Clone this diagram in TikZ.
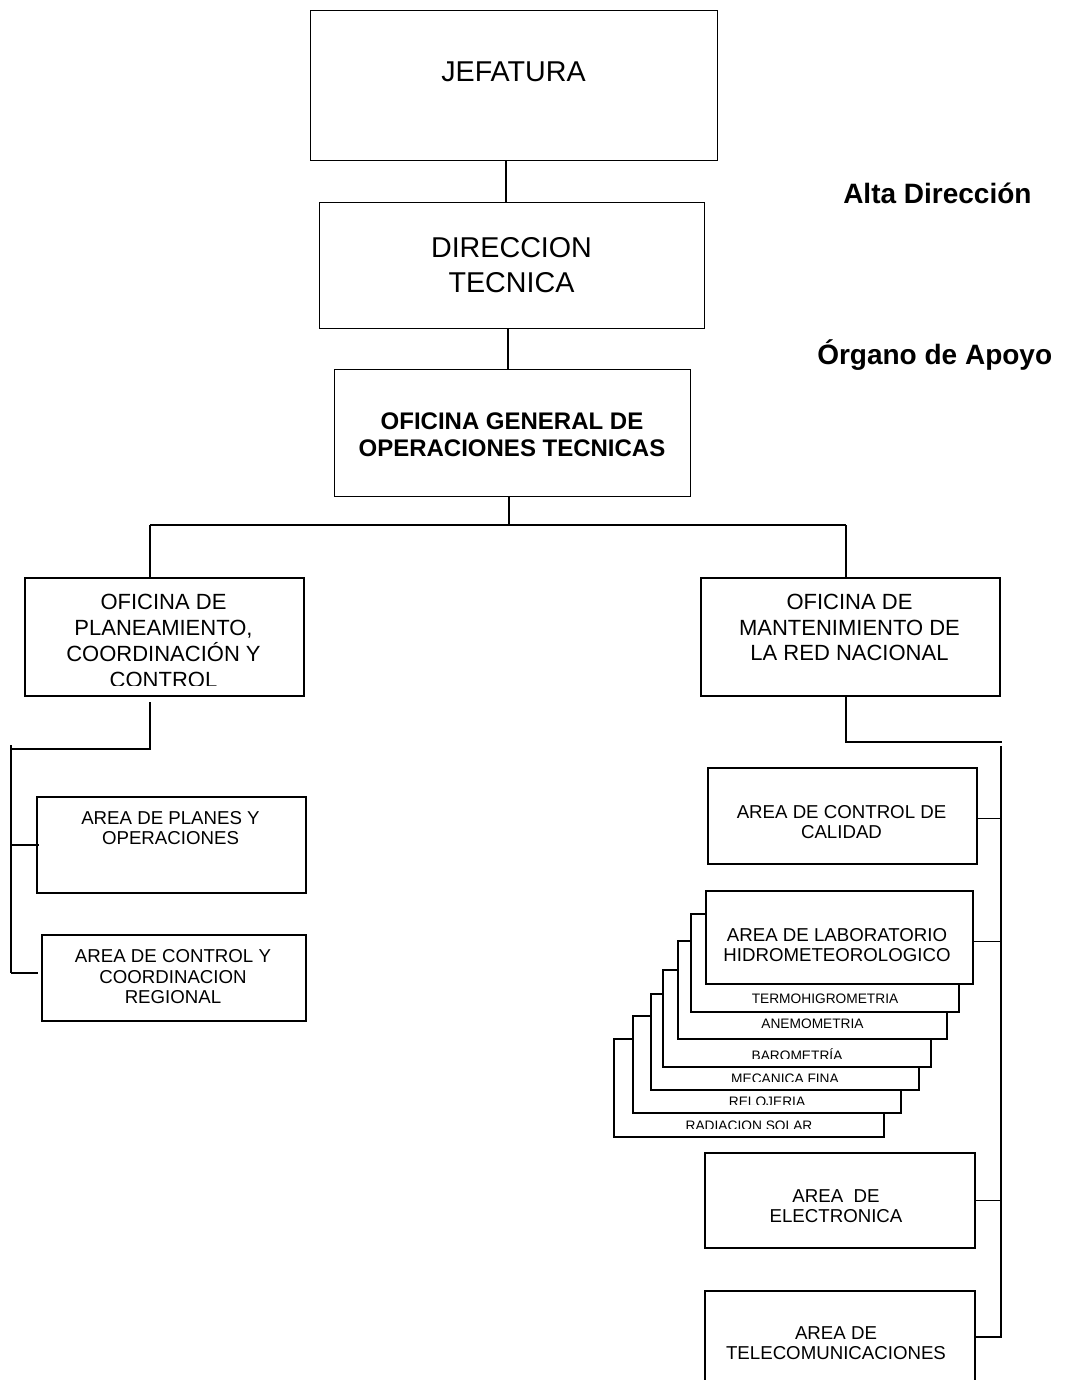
\documentclass[tikz,border=0pt]{standalone}
\usepackage{fontspec}
\setmainfont{Liberation Sans}
\tikzset{orgbox/.style={draw, line width=1.5pt, fill=white, inner sep=0pt, anchor=north west}}
\tikzset{topbox/.style={orgbox, line width=1.1pt}}
\tikzset{wh/.style 2 args={minimum width=#1*0.75pt, minimum height=#2*0.75pt}}
\tikzset{conn/.style={line width=1.1pt}}
\tikzset{lbl/.style={align=center, inner sep=0pt}}
\tikzset{bigtxt/.style={lbl, font=\fontsize{21.5pt}{26.25pt}\selectfont}}
\tikzset{boldtxt/.style={lbl, font=\bfseries\fontsize{18pt}{20.25pt}\selectfont}}
\tikzset{oftxt/.style={lbl, font=\fontsize{16.5pt}{19.4pt}\selectfont}}
\tikzset{areatxt/.style={lbl, font=\fontsize{14pt}{15.4pt}\selectfont}}
\tikzset{subtxt/.style={lbl, font=\fontsize{10.3pt}{12pt}\selectfont}}
\tikzset{nivel/.style={inner sep=0pt, font=\bfseries\fontsize{21pt}{25pt}\selectfont}}

\begin{document}
\begin{tikzpicture}[x=0.75pt,y=-0.75pt]
  \useasboundingbox (0,0) rectangle (1065,1380);
  % alta direccion
  \node[topbox, wh={407}{150}] (jef) at (310,10) {};
  \node[bigtxt] (jef-t) at (513.5,72) {JEFATURA};
  \node[topbox, wh={385}{126}] (dir) at (319,202) {};
  \node[bigtxt] (dir-t) at (511.5,265.5) {DIRECCION\\TECNICA};
  \node[topbox, wh={356}{127}] (ogot) at (334,369) {};
  \node[boldtxt] (ogot-t) at (512,435) {OFICINA GENERAL DE\\OPERACIONES TECNICAS};
  \node[nivel, anchor=base west] (alta) at (843,204) {Alta Dirección};
  \node[nivel, anchor=base west] (apoyo) at (817,364) {Órgano de Apoyo};
  \coordinate (t1) at (506,0);
  \coordinate (t2) at (508,0);
  \coordinate (t3) at (509,0);
  \draw[conn] (t1 |- jef.south) -- (t1 |- dir.north);
  \draw[conn] (t2 |- dir.south) -- (t2 |- ogot.north);
  % oficinas
  \node[orgbox, wh={279}{118}] (plan) at (24,577) {};
  \begin{scope}
    \clip (plan.north west) rectangle ([yshift=9pt]plan.south east);
    \node[oftxt] (plan-t) at (163.5,641) {OFICINA DE\\PLANEAMIENTO,\\COORDINACIÓN Y\\CONTROL};
  \end{scope}
  \node[orgbox, wh={299}{118}] (mant) at (700,577) {};
  \node[oftxt] (mant-t) at (849.5,627.5) {OFICINA DE\\MANTENIMIENTO DE\\LA RED NACIONAL};
  \coordinate (busL) at (150,525);
  \coordinate (busR) at (846,525);
  \draw[conn] (t3 |- ogot.south) -- (t3 |- busL);
  \draw[conn] (busL) -- (busR);
  \draw[conn] (busL) -- (busL |- plan.north);
  \draw[conn] (busR) -- (busR |- mant.north);
  % areas izquierda
  \node[orgbox, wh={269}{96}] (planes) at (36,796) {};
  \node[areatxt] (planes-t) at (170.5,828) {AREA DE PLANES Y\\OPERACIONES};
  \node[orgbox, wh={264}{86}] (ccr) at (41,934) {};
  \node[areatxt] (ccr-t) at (173,977) {AREA DE CONTROL Y\\COORDINACION\\REGIONAL};
  \coordinate (plD) at (150,702);
  \coordinate (plJ) at (150,749);
  \coordinate (lTop) at (11,745);
  \coordinate (lBot) at (11,973);
  \draw[conn] (plD) -- (plJ) -- (plJ -| lTop);
  \draw[conn] (lTop) -- (lBot);
  \draw[conn] (lTop |- planes.west) -- ([xshift=2pt]planes.west);
  \draw[conn] (lBot) -- ([xshift=-2pt]ccr.west |- lBot);
  % areas derecha
  \node[orgbox, wh={269}{96}] (cal) at (707,767) {};
  \node[areatxt] (cal-t) at (841.5,822) {AREA DE CONTROL DE\\CALIDAD};
  \foreach \nm/\bx/\by/\bw/\bh/\off/\txt in {
      rad/613/1038/270/98/13/RADIACION SOLAR,
      rel/632/1015/268/97/13/RELOJERIA,
      mec/650/993/268/96/13/MECANICA FINA,
      bar/662/969/268/97/13/BAROMETRÍA,
      ane/677/940/269/98/17/ANEMOMETRIA,
      ter/690/913/268/98/15/TERMOHIGROMETRIA}{
    \node[orgbox, wh={\bw}{\bh}] (\nm) at (\bx,\by) {};
    \begin{scope}
      \clip (\nm.north west) rectangle ([yshift=7.5pt]\nm.south east);
      \node[subtxt, anchor=base] (\nm-t) at ([yshift={(\off-5)*0.75pt}]\nm.south) {\txt};
    \end{scope}
  }
  \node[orgbox, wh={267}{93}] (lab) at (705,890) {};
  \node[areatxt] (lab-t) at (837,945) {AREA DE LABORATORIO\\HIDROMETEOROLOGICO};
  \node[orgbox, wh={270}{95}] (elec) at (704,1152) {};
  \node[areatxt] (elec-t) at (836,1206) {AREA\ \ DE\\ELECTRONICA};
  \node[orgbox, wh={270}{92}] (tele) at (704,1290) {};
  \node[areatxt] (tele-t) at (836,1343) {AREA DE\\TELECOMUNICACIONES};
  \coordinate (mtJ) at (1002,742);
  \coordinate (rTop) at (1001,746);
  \coordinate (rBot) at (1001,1338);
  \draw[conn] (mant.south -| busR) -- (busR |- mtJ) -- (mtJ);
  \draw[conn] (rTop) -- (rBot);
  \draw[conn] ([yshift=-2pt]cal.east) -- ([yshift=-2pt]cal.east -| rTop);
  \draw[conn] ([yshift=-3pt]lab.east) -- ([yshift=-3pt]lab.east -| rTop);
  \draw[conn] (elec.east) -- (elec.east -| rTop);
  \draw[conn] (tele.east) -- (tele.east -| rTop);
\end{tikzpicture}
\end{document}
